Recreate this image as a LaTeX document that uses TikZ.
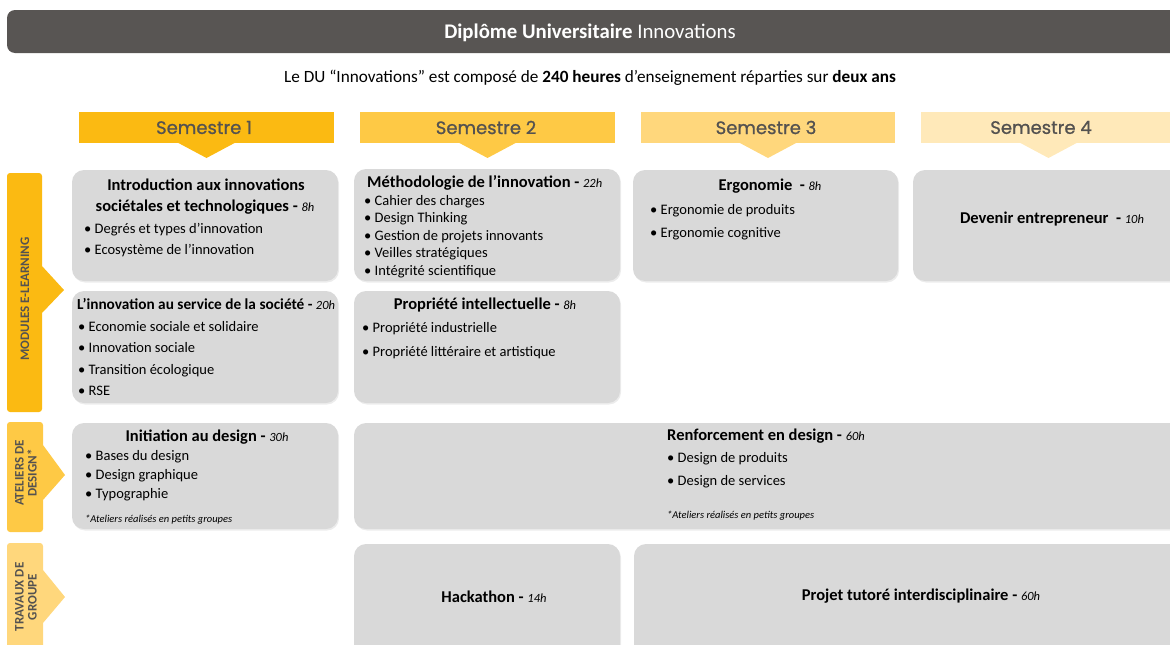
\documentclass[tikz,border=0pt]{standalone}
\usepackage{fontspec}
\setmainfont{Carlito}
\newfontfamily\semfont{Poppins}[FakeBold=0.9]
\usetikzlibrary{shadows}
\definecolor{barc}{HTML}{585553}
\definecolor{sA}{HTML}{FBBA12}
\definecolor{sB}{HTML}{FEC945}
\definecolor{sC}{HTML}{FFD77C}
\definecolor{sD}{HTML}{FFE9B9}
\definecolor{boxg}{HTML}{D9D9D9}
\definecolor{semtxt}{HTML}{545250}
\newcommand\hrs[1]{{\normalfont\itshape\fontsize{12.5}{14}\selectfont #1}}
\begin{document}
\begin{tikzpicture}[x=1pt,y=-1pt,
  gbox/.style={fill=boxg, rounded corners=12pt, inner sep=0, draw=none,
    drop shadow={opacity=0.15, shadow xshift=1pt, shadow yshift=-1.5pt}},
  ttl/.style={inner sep=0, yshift=-1.5pt, font=\fontsize{16.5}{19}\selectfont\bfseries, text height=12pt, text depth=4pt},
  itm/.style={inner sep=0, yshift=-1.5pt, anchor=west, font=\fontsize{14.5}{17}\selectfont, text height=10pt, text depth=3pt},
  note/.style={inner sep=0, yshift=-1pt, anchor=west, font=\fontsize{10.5}{12}\selectfont\itshape, text height=8pt, text depth=2pt},
  sem/.style={inner sep=0, yshift=-0.5pt, font=\semfont\fontsize{18}{20}\selectfont, text=semtxt},
  lbl/.style={inner sep=0, rotate=90, align=center, font=\fontsize{13}{13}\selectfont\bfseries, text=semtxt}]
\useasboundingbox (0,0) rectangle (1170,645);
\clip (0,0) rectangle (1170,645);

% title bar
\fill[barc, rounded corners=8pt] (7,10) rectangle (1195,53);
\node[inner sep=0, text=white, font=\fontsize{20.8}{23}\selectfont] (title) at (590,32.5)
  {\bfseries Diplôme Universitaire \mdseries Innovations};
\node[inner sep=0, font=\fontsize{17.2}{20}\selectfont] (sub) at (590,77.5)
  {Le DU “Innovations” est composé de \textbf{240 heures} d’enseignement réparties sur \textbf{deux ans}};

% semester headers
\fill[sA] (79,112) rectangle (334,143);
\fill[sA] (177.5,142.5) -- (235.5,142.5) -- (206.5,158) -- cycle;
\node[sem] (s1) at (204,127) {Semestre 1};
\fill[sB] (360,112) rectangle (615,143);
\fill[sB] (458.5,142.5) -- (516.5,142.5) -- (487.5,158) -- cycle;
\node[sem] (s2) at (486,127) {Semestre 2};
\fill[sC] (641,112) rectangle (895,143);
\fill[sC] (739,142.5) -- (797,142.5) -- (768,158) -- cycle;
\node[sem] (s3) at (766,127) {Semestre 3};
\fill[sD] (921,112) rectangle (1176,143);
\fill[sD] (1019.5,142.5) -- (1077.5,142.5) -- (1048.5,158) -- cycle;
\node[sem] (s4) at (1041,127) {Semestre 4};

% side labels
\fill[sA] (7,200) [rounded corners=3pt] -- (7,173) -- (42,173) [sharp corners] -- (42,266) -- (64,290) -- (42,313) [rounded corners=3pt] -- (42,412) -- (7,412) [sharp corners] -- cycle;
\node[lbl] (lmod) at (25,299) {MODULES E-LEARNING};
\fill[sB] (7,450) [rounded corners=3pt] -- (7,422) -- (43,422) [sharp corners] -- (43,445) -- (65,475) -- (43,500) [rounded corners=3pt] -- (43,532) -- (7,532) [sharp corners] -- cycle;
\node[lbl] (lat) at (26,473) {ATELIERS DE\\DESIGN*};
\fill[sC] (7,570) [rounded corners=3pt] -- (7,543) -- (43,543) [sharp corners] -- (43,570) -- (65,597) -- (43,623) -- (43,660) -- (7,660) -- cycle;
\node[lbl] (ltr) at (26,597) {TRAVAUX DE\\GROUPE};

% gray boxes
\node[gbox, minimum width=266pt, minimum height=111pt] (intro) at (205,225.5) {};
\node[gbox, minimum width=266pt, minimum height=112pt] (innov) at (205,347) {};
\node[gbox, minimum width=266pt, minimum height=112pt] (metho) at (487,225) {};
\node[gbox, minimum width=266pt, minimum height=112pt] (propr) at (487,347) {};
\node[gbox, minimum width=265pt, minimum height=111pt] (ergo) at (765.5,225.5) {};
\node[gbox, minimum width=280pt, minimum height=111pt] (deven) at (1053,225.5) {};
\node[gbox, minimum width=266pt, minimum height=106pt] (initi) at (205,476) {};
\node[gbox, minimum width=840pt, minimum height=106pt] (renfo) at (774,476) {};
\node[gbox, minimum width=266pt, minimum height=120pt] (hack) at (487,604) {};
\node[gbox, minimum width=560pt, minimum height=120pt] (proj) at (914,604) {};

% intro
\node[ttl] (introT1) at (206,185) {Introduction aux innovations};
\node[ttl] (introT2) at (205,206) {sociétales et technologiques - \hrs{8h}};
\node[itm] (introA) at (84,228) {• Degrés et types d’innovation};
\node[itm] (introB) at (84,249) {• Ecosystème de l’innovation};

% innovation au service
\node[ttl, anchor=west, font=\fontsize{15.3}{18}\selectfont\bfseries] (innovT) at (77,304) {L’innovation au service de la société - \hrs{20h}};
\node[itm] (innovA) at (78,326) {• Economie sociale et solidaire};
\node[itm] (innovB) at (78,347) {• Innovation sociale};
\node[itm] (innovC) at (78,369) {• Transition écologique};
\node[itm] (innovD) at (78,390) {• RSE};

% methodologie
\node[ttl, anchor=west] (methoT) at (367,182) {Méthodologie de l’innovation - \hrs{22h}};
\node[itm] (methoA) at (364,200) {• Cahier des charges};
\node[itm] (methoB) at (364,217.5) {• Design Thinking};
\node[itm] (methoC) at (364,235) {• Gestion de projets innovants};
\node[itm] (methoD) at (364,252.5) {• Veilles stratégiques};
\node[itm] (methoE) at (364,270) {• Intégrité scientifique};

% propriete
\node[ttl] (proprT) at (485,304) {Propriété intellectuelle - \hrs{8h}};
\node[itm] (proprA) at (362,327) {• Propriété industrielle};
\node[itm] (proprB) at (362,351) {• Propriété littéraire et artistique};

% ergonomie
\node[ttl] (ergoT) at (770,185) {Ergonomie\ \ - \hrs{8h}};
\node[itm] (ergoA) at (650,209) {• Ergonomie de produits};
\node[itm] (ergoB) at (650,232) {• Ergonomie cognitive};

% devenir
\node[ttl] (devenT) at (1052,218) {Devenir entrepreneur\ \ - \hrs{10h}};

% initiation
\node[ttl] (initiT) at (207,436) {Initiation au design - \hrs{30h}};
\node[itm] (initiA) at (85,455) {• Bases du design};
\node[itm] (initiB) at (85,474) {• Design graphique};
\node[itm] (initiC) at (85,493) {• Typographie};
\node[note] (initiN) at (85,518) {*Ateliers réalisés en petits groupes};

% renforcement
\node[ttl, anchor=west] (renfoT) at (667,435) {Renforcement en design - \hrs{60h}};
\node[itm] (renfoA) at (667,457) {• Design de produits};
\node[itm] (renfoB) at (667,480) {• Design de services};
\node[note] (renfoN) at (667,514) {*Ateliers réalisés en petits groupes};

% hackathon, projet
\node[ttl] (hackT) at (494,597) {Hackathon - \hrs{14h}};
\node[ttl] (projT) at (921,595) {Projet tutoré interdisciplinaire - \hrs{60h}};
\end{tikzpicture}
\end{document}
